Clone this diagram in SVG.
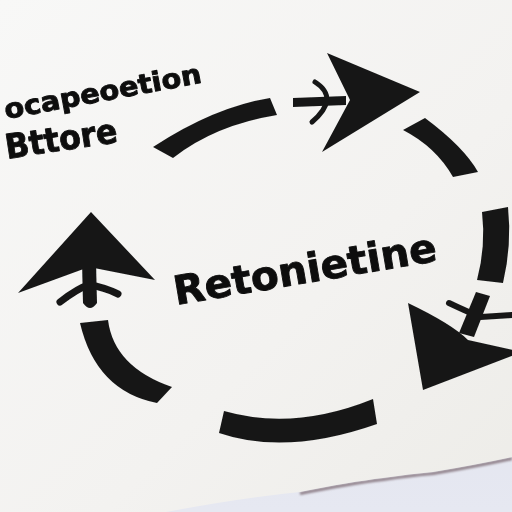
<svg xmlns="http://www.w3.org/2000/svg" width="512" height="512" viewBox="0 0 512 512">
  <defs>
    <linearGradient id="paper" x1="0" y1="0" x2="1" y2="1">
      <stop offset="0" stop-color="#f8f8f7"/>
      <stop offset="0.6" stop-color="#f3f2f0"/>
      <stop offset="1" stop-color="#edece8"/>
    </linearGradient>
    <linearGradient id="table" x1="0" y1="0" x2="0" y2="1">
      <stop offset="0" stop-color="#d9dceb"/>
      <stop offset="1" stop-color="#e6e8f1"/>
    </linearGradient>
    <filter id="soft" x="-5%" y="-5%" width="110%" height="110%">
      <feGaussianBlur stdDeviation="0.6"/>
    </filter>
    <filter id="edgeblur" x="-5%" y="-50%" width="110%" height="200%">
      <feGaussianBlur stdDeviation="1.2"/>
    </filter>
  </defs>
  <style>
    .ink { fill: #171818; }
    .feather { fill: none; stroke: #171818; stroke-linecap: round; }
    .lbl { font-family: "DejaVu Sans", "Liberation Sans", sans-serif; font-weight: bold; fill: #111; stroke: #111; stroke-width: 0.9; stroke-linejoin: round; }
  </style>

  <!-- table & paper -->
  <rect x="0" y="0" width="512" height="512" fill="url(#table)"/>
  <path d="M300,492 Q350,482 383,478 Q410,474 433,472 Q480,464 512,457" fill="none" stroke="#8e7f88" stroke-width="3" filter="url(#edgeblur)" transform="translate(0,1.5)"/>
  <path d="M166,512 Q240,498 300,492 Q350,482 383,478 Q410,474 433,472 Q480,464 512,457 L512,0 L0,0 L0,512 Z" fill="url(#paper)"/>

  <g filter="url(#soft)">
    <!-- labels -->
    <g id="label-top">
      <text class="lbl" font-size="27" textLength="200" lengthAdjust="spacingAndGlyphs" transform="translate(6,119) rotate(-10.5)">ocapeoetion</text>
    </g>
    <g id="label-left">
      <text class="lbl" font-size="34" textLength="113" lengthAdjust="spacingAndGlyphs" transform="translate(7,159) rotate(-8.7)">Bttore</text>
    </g>
    <g id="label-center">
      <text class="lbl" font-size="40" textLength="266" lengthAdjust="spacingAndGlyphs" transform="translate(176,305) rotate(-9.6)">Retonietine</text>
    </g>

    <!-- connectors: dashed cycle -->
    <g id="connectors">
      <path class="ink" d="M153,147 Q214,107 270,98 L277,115 Q215,125 173,158 Z"/>
      <path class="ink" d="M403,130 L425,118 Q464,147 478,172 L453,177 Q436,147 403,130 Z"/>
      <path class="ink" d="M482,212 L508,207 Q512,245 503,283 L477,280 Q486,246 482,212 Z"/>
      <path class="ink" d="M224,411 Q294,431 373,399 L377,424 Q286,456 219,433 Z"/>
      <path class="ink" d="M80,323 L108,320 Q114,367 172,387 L157,403 Q96,391 80,323 Z"/>
    </g>

    <!-- top arrow -->
    <g id="arrow-top">
      <path class="ink" d="M293,98 L346,96 L346,105 L293,107 Z"/>
      <path class="feather" stroke-width="5" d="M315,82 Q340,98 312,122"/>
      <path class="ink" d="M420,92 L327,53 L350,100 L322,152 Z"/>
    </g>

    <!-- left arrow -->
    <g id="arrow-left">
      <path class="ink" d="M82,262 L96,262 L97,303 Q90,313 83,303 Z"/>
      <path class="feather" stroke-width="7" d="M60,302 Q78,288 89,285 Q104,287 118,294"/>
      <path class="ink" d="M91,212 L155,280 L89,267 L18,293 Z"/>
    </g>

    <!-- right arrow -->
    <g id="arrow-right">
      <path class="ink" d="M459,333 L474,337 L490,296 L476,292 Z"/>
      <path class="feather" stroke-width="6" d="M449,303 Q470,313 481,317 Q497,316 512,315"/>
      <path class="ink" d="M408,303 Q452,324 468,340 L522,352 L423,390 Z"/>
    </g>
  </g>
</svg>
